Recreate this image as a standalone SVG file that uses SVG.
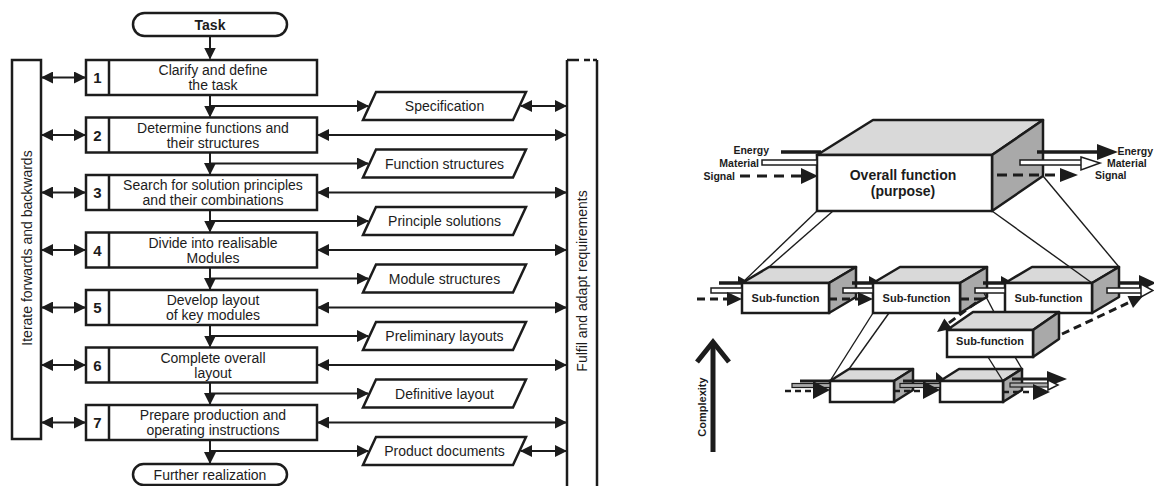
<svg xmlns="http://www.w3.org/2000/svg" width="1154" height="486" viewBox="0 0 1154 486">
<defs>
<marker id="ah" markerUnits="userSpaceOnUse" markerWidth="12" markerHeight="12" viewBox="0 0 12 12" refX="11" refY="6" orient="auto-start-reverse"><path d="M0,0 L12,6 L0,12 z" fill="#1c1c1c"/></marker>
</defs>
<style>
text{font-family:"Liberation Sans",Arial,Helvetica,sans-serif;fill:#1c1c1c}
.t{font-size:14px;text-anchor:middle}
.tb{font-size:14px;font-weight:bold;text-anchor:middle}
.n{font-size:15px;font-weight:bold;text-anchor:middle}
.bx{fill:#fff;stroke:#1c1c1c;stroke-width:2.5}
.ln{stroke:#1c1c1c;stroke-width:2.5;fill:none}
.c{stroke:#1c1c1c;stroke-width:2;fill:none}
.a1{marker-end:url(#ah)}
.a2{marker-start:url(#ah);marker-end:url(#ah)}
.fr{fill:#fff;stroke:#1c1c1c;stroke-width:2.5}
.tp{fill:#d9d9d9;stroke:#1c1c1c;stroke-width:2.5;stroke-linejoin:round}
.rt{fill:#a9a9a9;stroke:#1c1c1c;stroke-width:2.5;stroke-linejoin:round}
.sf{font-size:11px;font-weight:bold;text-anchor:middle}
.lbl{font-size:10.5px;font-weight:bold}
.thin{stroke:#1c1c1c;stroke-width:1.4;fill:none}
.en{stroke:#1c1c1c;stroke-width:3.5;fill:none}
.en3{stroke:#1c1c1c;stroke-width:3;fill:none}
.sg{stroke:#1c1c1c;stroke-width:3;stroke-dasharray:9 6;fill:none}
.sg3{stroke:#1c1c1c;stroke-width:2.5;stroke-dasharray:6 4;fill:none}
.mt{fill:#fff;stroke:#1c1c1c;stroke-width:1.5}
.mt3{fill:#aaa;stroke:#1c1c1c;stroke-width:1.2}
.hd{fill:#1c1c1c}
.hh{fill:#fff;stroke:#1c1c1c;stroke-width:1.5}
</style>

<!-- ===== Left: process flow ===== -->
<g id="iterate-bar">
<rect class="bx" x="12" y="60" width="29" height="379"/>
<text class="t" transform="translate(32,248) rotate(-90)">Iterate forwards and backwards</text>
</g>
<g id="fulfil-bar">
<path class="ln" d="M567,60 V490 M597,60 V490 M567,60 H579 M584,60 H590 M593,60 H597"/>
<text class="t" transform="translate(587,281) rotate(-90)">Fulfil and adapt requirements</text>
</g>

<g id="task">
<rect class="bx" x="133" y="13" width="154" height="23" rx="11.5"/>
<text class="tb" x="210" y="30">Task</text>
</g>

<g id="step1"><rect class="bx" x="86" y="60" width="231" height="35"/><line class="ln" x1="109" y1="60" x2="109" y2="95"/><text class="n" x="97.5" y="83">1</text><text class="t" x="213" y="75">Clarify and define</text><text class="t" x="213" y="90">the task</text></g>
<g id="step2"><rect class="bx" x="86" y="117.5" width="231" height="35"/><line class="ln" x1="109" y1="117.5" x2="109" y2="152.5"/><text class="n" x="97.5" y="140.5">2</text><text class="t" x="213" y="132.5">Determine functions and</text><text class="t" x="213" y="147.5">their structures</text></g>
<g id="step3"><rect class="bx" x="86" y="175" width="231" height="35"/><line class="ln" x1="109" y1="175" x2="109" y2="210"/><text class="n" x="97.5" y="198">3</text><text class="t" x="213" y="190">Search for solution principles</text><text class="t" x="213" y="205">and their combinations</text></g>
<g id="step4"><rect class="bx" x="86" y="232.5" width="231" height="35"/><line class="ln" x1="109" y1="232.5" x2="109" y2="267.5"/><text class="n" x="97.5" y="255.5">4</text><text class="t" x="213" y="247.5">Divide into realisable</text><text class="t" x="213" y="262.5">Modules</text></g>
<g id="step5"><rect class="bx" x="86" y="290" width="231" height="35"/><line class="ln" x1="109" y1="290" x2="109" y2="325"/><text class="n" x="97.5" y="313">5</text><text class="t" x="213" y="305">Develop layout</text><text class="t" x="213" y="320">of key modules</text></g>
<g id="step6"><rect class="bx" x="86" y="347.5" width="231" height="35"/><line class="ln" x1="109" y1="347.5" x2="109" y2="382.5"/><text class="n" x="97.5" y="370.5">6</text><text class="t" x="213" y="362.5">Complete overall</text><text class="t" x="213" y="377.5">layout</text></g>
<g id="step7"><rect class="bx" x="86" y="405" width="231" height="35"/><line class="ln" x1="109" y1="405" x2="109" y2="440"/><text class="n" x="97.5" y="428">7</text><text class="t" x="213" y="420">Prepare production and</text><text class="t" x="213" y="435">operating instructions</text></g>

<g id="further">
<rect class="bx" x="133" y="464" width="154" height="21" rx="10.5"/>
<text class="t" x="210" y="480">Further realization</text>
</g>

<g id="res-specification"><polygon class="bx" points="376,92 526,92 513,120 363,120"/><text class="t" x="444.5" y="111">Specification</text></g>
<g id="res-function-structures"><polygon class="bx" points="376,149.5 526,149.5 513,177.5 363,177.5"/><text class="t" x="444.5" y="168.5">Function structures</text></g>
<g id="res-principle-solutions"><polygon class="bx" points="376,207 526,207 513,235 363,235"/><text class="t" x="444.5" y="226">Principle solutions</text></g>
<g id="res-module-structures"><polygon class="bx" points="376,264.5 526,264.5 513,292.5 363,292.5"/><text class="t" x="444.5" y="283.5">Module structures</text></g>
<g id="res-preliminary-layouts"><polygon class="bx" points="376,322 526,322 513,350 363,350"/><text class="t" x="444.5" y="341">Preliminary layouts</text></g>
<g id="res-definitive-layout"><polygon class="bx" points="376,379.5 526,379.5 513,407.5 363,407.5"/><text class="t" x="444.5" y="398.5">Definitive layout</text></g>
<g id="res-product-documents"><polygon class="bx" points="376,437 526,437 513,465 363,465"/><text class="t" x="444.5" y="456">Product documents</text></g>

<g id="connectors">
<line class="c a1" x1="210" y1="36" x2="210" y2="58.5"/>
<line class="c a1" x1="210" y1="95" x2="210" y2="116.5"/>
<line class="c a1" x1="210" y1="152.5" x2="210" y2="174"/>
<line class="c a1" x1="210" y1="210" x2="210" y2="231.5"/>
<line class="c a1" x1="210" y1="267.5" x2="210" y2="289"/>
<line class="c a1" x1="210" y1="325" x2="210" y2="346.5"/>
<line class="c a1" x1="210" y1="382.5" x2="210" y2="404"/>
<line class="c a1" x1="210" y1="440" x2="210" y2="463"/>
<line class="c a1" x1="210" y1="106" x2="368" y2="106"/>
<line class="c a1" x1="210" y1="163.5" x2="368" y2="163.5"/>
<line class="c a1" x1="210" y1="221" x2="368" y2="221"/>
<line class="c a1" x1="210" y1="278.5" x2="368" y2="278.5"/>
<line class="c a1" x1="210" y1="336" x2="368" y2="336"/>
<line class="c a1" x1="210" y1="393.5" x2="368" y2="393.5"/>
<line class="c a1" x1="210" y1="451" x2="368" y2="451"/>
<line class="c a2" x1="42" y1="77.5" x2="85" y2="77.5"/>
<line class="c a2" x1="42" y1="135" x2="85" y2="135"/>
<line class="c a2" x1="42" y1="192.5" x2="85" y2="192.5"/>
<line class="c a2" x1="42" y1="250" x2="85" y2="250"/>
<line class="c a2" x1="42" y1="307.5" x2="85" y2="307.5"/>
<line class="c a2" x1="42" y1="365" x2="85" y2="365"/>
<line class="c a2" x1="42" y1="422.5" x2="85" y2="422.5"/>
<line class="c a2" x1="521" y1="106" x2="566" y2="106"/>
<line class="c a2" x1="318" y1="135" x2="566" y2="135"/>
<line class="c a2" x1="318" y1="192.5" x2="566" y2="192.5"/>
<line class="c a2" x1="318" y1="250" x2="566" y2="250"/>
<line class="c a2" x1="318" y1="307.5" x2="566" y2="307.5"/>
<line class="c a2" x1="318" y1="365" x2="566" y2="365"/>
<line class="c a2" x1="318" y1="422.5" x2="566" y2="422.5"/>
<line class="c a2" x1="521" y1="451" x2="566" y2="451"/>
</g>

<!-- ===== Right: function decomposition ===== -->
<g id="overall">
<polygon class="tp" points="817,155 873,120 1043,120 992,155"/>
<polygon class="rt" points="992,155 1043,120 1043,176 992,211"/>
<rect class="fr" x="817" y="155" width="175" height="56"/>
<text class="tb" x="903" y="180">Overall function</text>
<text class="tb" x="903" y="196">(purpose)</text>
</g>

<g id="sub1">
<polygon class="tp" points="742,283 769,267 856,267 829,283"/>
<polygon class="rt" points="829,283 856,267 856,297 829,313"/>
<rect class="fr" x="742" y="283" width="87" height="30"/>
<text class="sf" x="785.5" y="302">Sub-function</text>
</g>
<g id="sub2">
<polygon class="tp" points="873,283 900,267 987,267 960,283"/>
<polygon class="rt" points="960,283 987,267 987,297 960,313"/>
<rect class="fr" x="873" y="283" width="87" height="30"/>
<text class="sf" x="916.5" y="302">Sub-function</text>
</g>
<g id="sub3">
<polygon class="tp" points="1005,283 1032,267 1119,267 1092,283"/>
<polygon class="rt" points="1092,283 1119,267 1119,297 1092,313"/>
<rect class="fr" x="1005" y="283" width="87" height="30"/>
<text class="sf" x="1048.5" y="302">Sub-function</text>
</g>
<g id="sub4">
<polygon class="tp" points="947,330 973,312 1059,312 1033,330"/>
<polygon class="rt" points="1033,330 1059,312 1059,339 1033,357"/>
<rect class="fr" x="947" y="330" width="86" height="27"/>
<text class="sf" x="990" y="344.5">Sub-function</text>
</g>
<g id="sub5">
<polygon class="tp" points="830,381 849,369 913,369 894,381"/>
<polygon class="rt" points="894,381 913,369 913,390 894,402"/>
<rect class="fr" x="830" y="381" width="64" height="21"/>
</g>
<g id="sub6">
<polygon class="tp" points="940,381 959,369 1022,369 1003,381"/>
<polygon class="rt" points="1003,381 1022,369 1022,390 1003,402"/>
<rect class="fr" x="940" y="381" width="63" height="21"/>
</g>

<g id="complexity">
<line x1="713" y1="452" x2="713" y2="345" stroke="#1c1c1c" stroke-width="5"/>
<polyline points="697,362 713,342 729,362" fill="none" stroke="#1c1c1c" stroke-width="5"/>
<text class="lbl" style="font-size:11px;text-anchor:middle" transform="translate(706,407) rotate(-90)">Complexity</text>
</g>

<g id="flow-labels">
<text class="lbl" x="769" y="154" text-anchor="end">Energy</text>
<text class="lbl" x="759" y="167" text-anchor="end">Material</text>
<text class="lbl" x="735" y="180" text-anchor="end">Signal</text>
<text class="lbl" x="1153" y="155" text-anchor="end">Energy</text>
<text class="lbl" x="1107" y="167">Material</text>
<text class="lbl" x="1095" y="179">Signal</text>
</g>

<g id="flow-connectors">
<line class="thin" x1="817" y1="211" x2="742" y2="283"/>
<line class="thin" x1="833" y1="211" x2="769" y2="267"/>
<line class="thin" x1="992" y1="211" x2="1092" y2="283"/>
<line class="thin" x1="1043" y1="176" x2="1119" y2="267"/>
<line class="thin" x1="873" y1="313" x2="830" y2="381"/>
<line class="thin" x1="889" y1="313" x2="849" y2="369"/>
<line class="thin" x1="983" y1="291" x2="994" y2="312"/>
<line class="thin" x1="988" y1="357" x2="1003" y2="381"/>
<line class="thin" x1="1015" y1="357" x2="1022" y2="369"/>

<line class="en" x1="781" y1="152" x2="821" y2="152"/>
<rect class="mt" x="762" y="160" width="55" height="5"/>
<line class="sg" x1="740" y1="176" x2="801" y2="176" style="stroke-dasharray:10 7"/>
<polygon class="hd" points="801,168 818,176 801,184"/>
<line class="en" x1="1037" y1="152" x2="1100" y2="152"/>
<polygon class="hd" points="1097,144 1118,152 1097,160"/>
<rect class="mt" x="1020" y="160" width="62" height="5"/>
<polygon class="hh" points="1081,157 1100,163 1081,170"/>
<line class="sg" x1="997" y1="175" x2="1056" y2="175" style="stroke-dasharray:10 6"/>
<polygon class="hd" points="1060,168 1078,175 1060,182"/>

<line class="en" x1="719" y1="283" x2="742" y2="283"/>
<polygon class="hd" points="738,276 747,281 742,283 738,283"/>
<rect class="mt" x="711" y="288" width="31" height="5"/>
<line class="sg" x1="697" y1="299" x2="727" y2="299" style="stroke-dasharray:8 5"/>
<polygon class="hd" points="727,292 742,299 727,306"/>

<line class="en" x1="852" y1="283" x2="873" y2="283"/>
<polygon class="hd" points="869,276 878,281 873,283 869,283"/>
<rect class="mt" x="843" y="288" width="30" height="5"/>
<line class="sg" x1="829" y1="299" x2="858" y2="299" style="stroke-dasharray:8 5"/>
<polygon class="hd" points="858,292 873,299 858,306"/>

<line class="en" x1="983" y1="283" x2="1005" y2="283"/>
<polygon class="hd" points="1001,276 1010,281 1005,283 1001,283"/>
<rect class="mt" x="975" y="288" width="30" height="5"/>
<path class="sg" d="M961,299 L981,299 L948,323.6" style="stroke-dasharray:8 5"/>
<polygon class="hd" points="937,332 952.1,328.8 944.3,318.4"/>

<line class="en" x1="1119" y1="283" x2="1142" y2="283"/>
<polygon class="hd" points="1139,275 1156,283 1139,291"/>
<rect class="mt" x="1107" y="288" width="35" height="5"/>
<polygon class="hh" points="1141,284 1153,290.5 1141,297"/>
<path class="sg" d="M1062,334 L1130,302" style="stroke-dasharray:8 5"/>
<polygon class="hd" points="1143,296 1133,307.9 1127.5,296.1"/>

<line class="en3" x1="800" y1="381" x2="830" y2="381"/>
<rect class="mt3" x="792" y="383.5" width="38" height="4"/>
<line class="sg3" x1="785" y1="391" x2="815" y2="391"/>
<polygon class="hd" points="813,381 830,390 813,399"/>

<line class="en3" x1="903" y1="381" x2="940" y2="381"/>
<polygon class="hd" points="936,372 943,378 940,381 936,381"/>
<rect class="mt3" x="900" y="383.5" width="40" height="4"/>
<line class="sg3" x1="894" y1="391" x2="923" y2="391"/>
<polygon class="hd" points="923,381 940,390 923,399"/>

<line class="en3" x1="1012" y1="379" x2="1050" y2="379"/>
<polygon class="hd" points="1047,371 1067,379 1047,387"/>
<rect class="mt3" x="1010" y="383" width="40" height="4"/>
<polygon class="hh" points="1048,380 1058,385 1048,390"/>
<line class="sg3" x1="1003" y1="392" x2="1035" y2="392"/>
<polygon class="hd" points="1033,384 1050,392 1033,400"/>
</g>
</svg>
